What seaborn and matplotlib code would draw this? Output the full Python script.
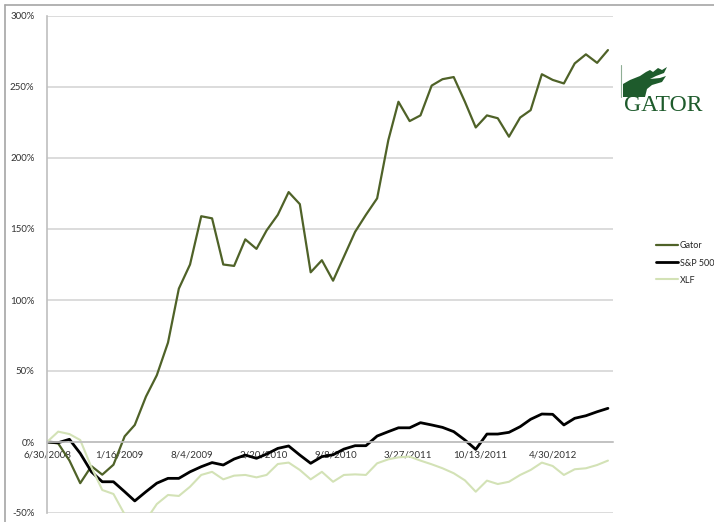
import numpy as np
import pandas as pd
import matplotlib
matplotlib.use("Agg")
import matplotlib.pyplot as plt
import seaborn as sns
from matplotlib.patches import Polygon
from matplotlib.lines import Line2D

# monthly cumulative returns (%)
dates = pd.date_range("2008-06-30", periods=52, freq=pd.offsets.MonthEnd())

gator = [0, -1, -13, -29, -17, -23, -16, 4, 12, 32, 47, 70, 108, 125, 159, 157.5,
         125, 124, 142.7, 136, 149, 160, 176, 167.5, 119.5, 128, 113.6, 130.5, 148, 160,
         171.6, 212.6, 239.6, 226, 230, 251, 255.5, 257, 239.6, 221.5, 230, 228,
         215, 228.5, 233.7, 259, 255, 252.5, 266.6, 273, 267, 276]

sp500 = [0, -0.5, 1.9, -8, -21, -28, -28, -35, -41.5, -35, -29, -25.6, -25.6, -21, -17.4, -14.5,
         -16.2, -12, -9.2, -11.5, -8.5, -4.5, -2.8, -9.2, -15, -10.3, -9, -5, -2.6, -2.6,
         4.2, 7.3, 10, 10, 13.6, 12, 10.3, 7.3, 1.4, -5.2, 5.6, 5.6,
         6.8, 10.8, 16, 19.7, 19.5, 12, 16.7, 18.5, 21.3, 23.7]

xlf = [0, 7.3, 5.6, 1.4, -17.8, -33.8, -36.6, -51, -66, -55, -43.7, -37.3, -38, -31.5, -23.2, -21,
       -26.3, -23.7, -23.2, -24.9, -23.2, -15.5, -14.5, -19.7, -26.3, -21, -28, -23.2, -22.8, -23.2,
       -15, -12.2, -10.8, -10.3, -13.1, -15.7, -18.5, -22, -27, -35, -27.2, -29.6,
       -28, -23.2, -19.7, -14.5, -16.9, -23.2, -19.2, -18.5, -16.2, -13.1]

series_names = ["Gator", "S&P 500", "XLF"]
colors = {"Gator": "#4f6228", "S&P 500": "#000000", "XLF": "#d3e2b6"}
widths = {"Gator": 1.6, "S&P 500": 2.0, "XLF": 1.5}

df = pd.DataFrame({"date": dates, "Gator": gator, "S&P 500": sp500, "XLF": xlf})
long_df = df.melt(id_vars="date", var_name="series", value_name="ret")

sns.set_style("white")
plt.rcParams["font.family"] = ["Lato", "DejaVu Sans"]

W, H = 714, 522
fig = plt.figure(figsize=(W / 100, H / 100), dpi=100)
ax = fig.add_axes([47 / W, 9 / H, 566 / W, 497 / H])

for name in series_names:
    sub = long_df[long_df["series"] == name]
    sns.lineplot(data=sub, x="date", y="ret", ax=ax, color=colors[name],
                 linewidth=widths[name], label=name, legend=False)

# spines first: moving the spine resets the tick objects
for s in ["top", "right"]:
    ax.spines[s].set_visible(False)
ax.spines["bottom"].set_position(("data", 0))
ax.spines["bottom"].set_color("#bfbfbf")
ax.spines["bottom"].set_linewidth(1.2)
ax.spines["left"].set_color("#bfbfbf")
ax.spines["left"].set_linewidth(1.2)

start = pd.Timestamp("2008-06-30")
ax.set_xlim(start, start + pd.Timedelta(days=1567))
ax.set_ylim(-50, 300)

ticks = [start + pd.Timedelta(days=200 * k) for k in range(8)]
ax.set_xticks(ticks)
ax.set_xticklabels([f"{d.month}/{d.day}/{d.year}" for d in ticks])
yt = np.arange(-50, 301, 50)
ax.set_yticks(yt)
ax.set_yticklabels([f"{v}%" for v in yt])

ax.set_xlabel("")
ax.set_ylabel("")
ax.yaxis.grid(True, color="#d9d9d9", linewidth=1.3)
ax.xaxis.grid(False)
ax.set_axisbelow(True)

ax.tick_params(axis="x", direction="out", length=3, color="#bfbfbf", pad=3,
               labelsize=7, labelcolor="#333333")
ax.tick_params(axis="y", direction="out", length=3, color="#d9d9d9", pad=6,
               labelsize=7, labelcolor="#333333")

# legend on the right
handles = [Line2D([], [], color=colors[n], linewidth=widths[n]) for n in series_names]
fig.legend(handles, series_names, loc="center left",
           bbox_to_anchor=(648 / W, 1 - 263 / H), frameon=False, fontsize=6.5,
           handlelength=2.4, handletextpad=0.2, labelspacing=0.9)

# chart frame (top and left edges)
fig.add_artist(Line2D([5 / W, 1], [1 - 5 / H, 1 - 5 / H], color="#a6a6a6", linewidth=1.2))
fig.add_artist(Line2D([5 / W, 5 / W], [0, 1 - 5 / H], color="#a6a6a6", linewidth=1.2))

# GATOR logo
logo_green = "#1e5b2c"
head = [(623, 97), (623, 84), (630, 80), (640, 76), (646, 72), (650, 70), (653, 72),
        (658, 68), (662, 70), (667, 67), (664, 73), (656, 76), (650, 79), (660, 78),
        (666, 76), (662, 82), (652, 85), (647, 89), (645, 97)]
fig.add_artist(Polygon([(x / W, 1 - y / H) for x, y in head], closed=True,
                       facecolor=logo_green, edgecolor="none"))
fig.add_artist(Line2D([621 / W, 621 / W], [1 - 65 / H, 1 - 97 / H], color="#8fae95", linewidth=0.8))
fig.text(663 / W, 1 - 111 / H, "GATOR", ha="center", va="baseline",
         fontsize=17, color=logo_green, family=["Liberation Serif", "DejaVu Serif"])

fig.savefig("out.png", dpi=100)
